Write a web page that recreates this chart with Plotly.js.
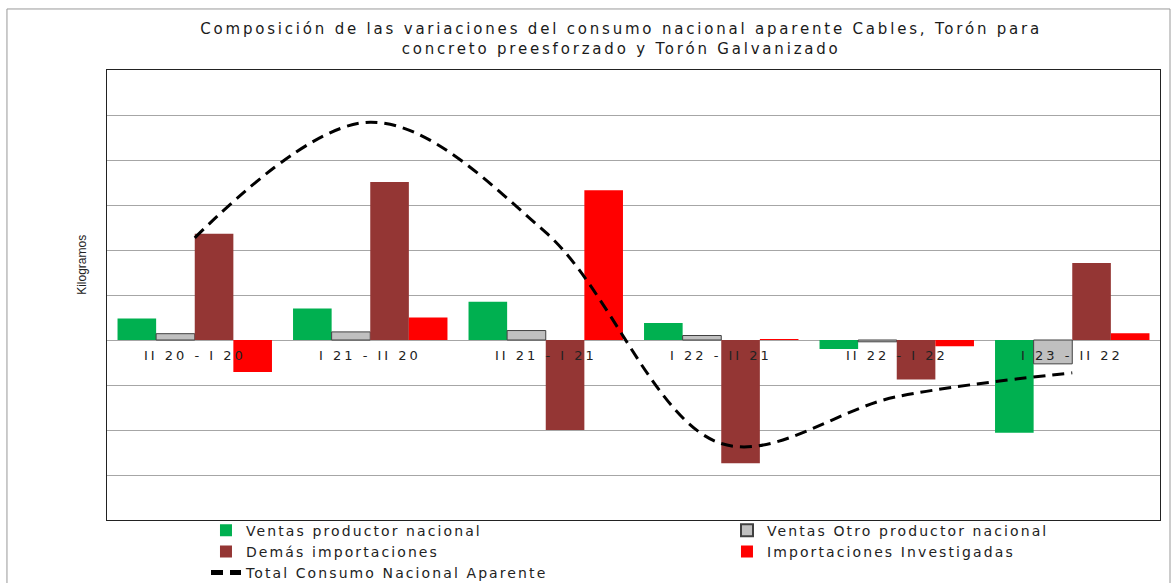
<!DOCTYPE html>
<html>
<head>
<meta charset="utf-8">
<script src="https://cdn.plot.ly/plotly-3.0.1.min.js"></script>
<style>
html,body{margin:0;padding:0;background:#fff;}
#chart{width:1172px;height:583px;}
#chart .gtitle{letter-spacing:2.8px;}
#chart .legendtext{letter-spacing:2.1px;}
</style>
</head>
<body>
<div id="chart"></div>
<script>
var categories = ["II 20 - I 20", "I 21 - II 20", "II 21 - I 21", "I 22 - II 21", "II 22 - I 22", "I 23 - II 22"];
var ventasProductorNacional = [0.48, 0.70, 0.85, 0.38, -0.20, -2.06];
var ventasOtroProductor = [0.14, 0.18, 0.21, 0.10, -0.04, -0.53];
var demasImportaciones = [2.36, 3.51, -2.00, -2.74, -0.88, 1.71];
var importacionesInvestigadas = [-0.71, 0.50, 3.33, 0.02, -0.14, 0.15];
var totalCNA = [2.27, 4.84, 2.39, -2.30, -1.26, -0.73];

var seriesNames = ["Ventas productor nacional", "Ventas Otro productor nacional", "Demás importaciones", "Importaciones Investigadas", "Total Consumo Nacional Aparente"];

var FONT = "DejaVu Sans, Verdana, sans-serif";

var traces = [
  {type: "bar", name: seriesNames[0], x: categories, y: ventasProductorNacional, marker: {color: "#00B050", line: {width: 0}}},
  {type: "bar", name: seriesNames[1], x: categories, y: ventasOtroProductor, marker: {color: "#C0C0C0", line: {color: "#404040", width: 1}}},
  {type: "bar", name: seriesNames[2], x: categories, y: demasImportaciones, marker: {color: "#943634", line: {width: 0}}},
  {type: "bar", name: seriesNames[3], x: categories, y: importacionesInvestigadas, marker: {color: "#FF0000", line: {width: 0}}},
  {type: "scatter", mode: "lines", name: seriesNames[4], x: categories, y: totalCNA, line: {color: "#000000", width: 3, dash: "12px,7px", shape: "spline", smoothing: 1}}
];

var annotations = categories.map(function (c) {
  return {x: c, y: 0, xref: "x", yref: "y", text: '<span style="letter-spacing:3px">' + c + '</span>', showarrow: false, yanchor: "top", yshift: -6,
          font: {family: FONT, size: 13, color: "#222"}};
});
annotations.push({x: -0.0323, y: 0.567, xref: "paper", yref: "paper", text: "Kilogramos", textangle: -90,
  showarrow: false, font: {family: "Liberation Sans, Arial, sans-serif", size: 12, color: "#222"}});

var layout = {
  width: 1172, height: 583,
  margin: {l: 107, r: 12, t: 70, b: 63, autoexpand: false},
  paper_bgcolor: "#ffffff", plot_bgcolor: "#ffffff",
  font: {family: FONT, color: "#222"},
  title: {text: "Composición de las variaciones del consumo nacional aparente Cables, Torón para<br>concreto preesforzado y Torón Galvanizado",
          x: 0.53, xanchor: "center", y: 0.941, yanchor: "top", yref: "container",
          font: {family: FONT, size: 15, color: "#1a1a1a"}},
  barmode: "group", bargap: 0.12, bargroupgap: 0,
  xaxis: {type: "category", range: [-0.5, 5.5], showticklabels: false, ticks: "", showgrid: false,
          showline: true, mirror: true, linecolor: "#222", linewidth: 1, zeroline: false, fixedrange: true},
  yaxis: {range: [-4, 6], dtick: 1, showticklabels: false, ticks: "", showgrid: true, gridcolor: "#A6A6A6", gridwidth: 1,
          zeroline: true, zerolinecolor: "#A6A6A6", zerolinewidth: 1,
          showline: true, mirror: true, linecolor: "#222", linewidth: 1, fixedrange: true},
  showlegend: true,
  legend: {orientation: "h", x: 0.094, xanchor: "left", y: 0.012, yanchor: "top", traceorder: "normal",
           entrywidth: 476, entrywidthmode: "pixels", font: {family: FONT, size: 14, color: "#222"},
           itemsizing: "constant", tracegroupgap: 0, bgcolor: "rgba(0,0,0,0)"},
  annotations: annotations,
  shapes: [{type: "rect", xref: "paper", yref: "paper", x0: -0.095, x1: 1.0095, y0: -0.3, y1: 1.1356,
            line: {color: "#999", width: 1}, fillcolor: "rgba(0,0,0,0)", layer: "below"}]
};

Plotly.newPlot("chart", traces, layout, {displayModeBar: false, staticPlot: true});
</script>
</body>
</html>
